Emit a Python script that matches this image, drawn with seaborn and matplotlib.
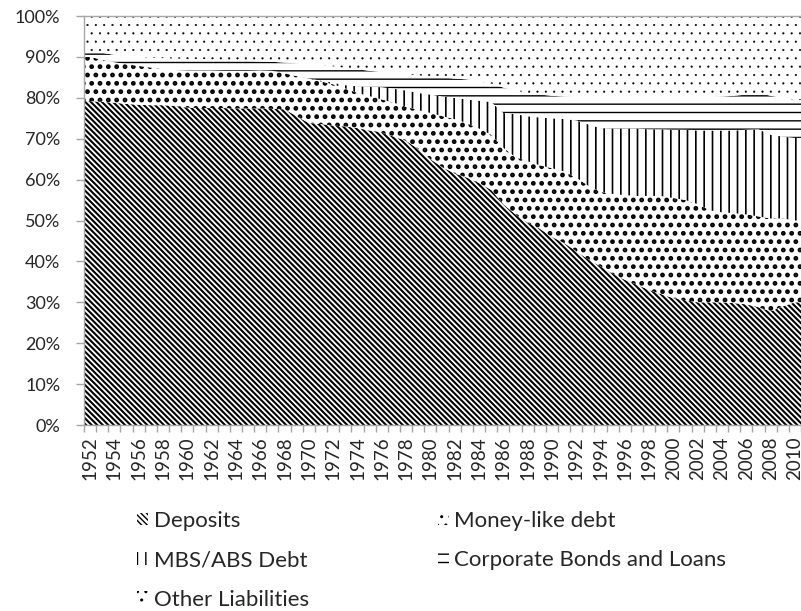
import numpy as np
import matplotlib
matplotlib.use("Agg")
import matplotlib.pyplot as plt
import seaborn as sns

years = list(range(1952, 2011))

deposits = [79.2, 79.0, 78.8, 78.5, 78.3, 78.2, 78.2, 78.0, 77.6, 77.5,
            77.5, 77.5, 77.4, 77.4, 77.4, 77.3, 77.2, 75.5, 73.8, 73.6,
            73.2, 73.0, 72.6, 72.0, 71.5, 70.5, 69.5, 67.5, 65.0, 63.0,
            61.5, 60.5, 59.2, 57.5, 54.0, 51.5, 49.5, 48.0, 46.0, 44.5,
            42.5, 40.5, 38.8, 37.0, 35.5, 34.3, 33.0, 32.0, 31.0, 30.5,
            30.0, 30.0, 30.0, 29.8, 29.5, 28.8, 27.8, 29.0, 30.0]
money_like = [10.8, 10.3, 9.9, 9.7, 9.5, 9.2, 8.8, 8.8, 9.1, 9.2,
              9.2, 9.1, 9.2, 9.2, 9.3, 9.3, 8.8, 9.8, 10.8, 10.4,
              10.1, 9.3, 8.6, 8.4, 8.1, 8.3, 8.3, 9.5, 11.3, 12.5,
              13.3, 13.3, 13.3, 13.5, 13.8, 14.0, 15.0, 15.5, 16.8, 17.5,
              18.0, 18.0, 18.2, 19.5, 20.7, 21.7, 23.0, 24.0, 24.5, 24.5,
              24.0, 22.5, 22.0, 22.0, 22.0, 22.2, 22.7, 21.5, 20.0]
mbs_abs = [0.0, 0.0, 0.0, 0.0, 0.0, 0.0, 0.0, 0.0, 0.0, 0.0,
           0.0, 0.0, 0.0, 0.0, 0.0, 0.0, 0.0, 0.0, 0.1, 0.2,
           0.4, 0.8, 1.6, 2.3, 3.0, 3.4, 4.0, 4.2, 4.5, 4.8,
           5.2, 5.8, 6.8, 8.0, 8.5, 10.5, 11.0, 11.7, 12.2, 12.8,
           14.0, 15.0, 15.6, 16.0, 16.3, 16.5, 16.3, 16.3, 16.7, 17.2,
           18.0, 19.5, 20.0, 20.2, 20.7, 21.3, 20.5, 20.0, 20.2]
corp_bonds = [1.5, 1.7, 1.8, 2.0, 2.2, 2.4, 2.7, 2.8, 2.8, 2.8,
              2.7, 2.7, 2.6, 2.4, 2.2, 2.2, 2.6, 3.1, 3.5, 3.8,
              4.0, 4.2, 4.2, 3.9, 3.7, 3.8, 4.0, 4.3, 4.4, 4.7,
              4.7, 4.9, 4.7, 4.5, 6.2, 5.8, 5.7, 5.6, 5.5, 5.5,
              5.7, 6.5, 7.4, 7.3, 7.3, 7.3, 7.5, 7.6, 7.8, 7.8,
              8.0, 8.2, 8.3, 8.5, 8.6, 8.9, 9.5, 9.5, 9.3]
other = [8.5, 9.0, 9.5, 9.8, 10.0, 10.2, 10.3, 10.4, 10.5, 10.5,
         10.6, 10.7, 10.8, 11.0, 11.1, 11.2, 11.4, 11.6, 11.8, 12.0,
         12.3, 12.7, 13.0, 13.4, 13.7, 14.0, 14.2, 14.5, 14.8, 15.0,
         15.3, 15.5, 16.0, 16.5, 17.5, 18.2, 18.8, 19.2, 19.5, 19.7,
         19.8, 20.0, 20.0, 20.2, 20.2, 20.2, 20.2, 20.1, 20.0, 20.0,
         20.0, 19.8, 19.7, 19.5, 19.2, 18.8, 19.5, 20.0, 20.5]

labels = ["Deposits", "Money-like debt", "MBS/ABS Debt",
          "Corporate Bonds and Loans", "Other Liabilities"]
series = [deposits, money_like, mbs_abs, corp_bonds, other]
hatches = ["\\" * 6, "..", "||", "--", ".."]
hatch_lw = [1.5, 2.2, 1.2, 1.0, 0.3]


def use_hatch_lw(artist, lw):
    # depending on the version the hatch width is taken at creation or at
    # draw time, so cover both
    if hasattr(artist, "set_hatch_linewidth"):
        artist.set_hatch_linewidth(lw)
    orig = artist.draw

    def draw(renderer):
        with plt.rc_context({"hatch.linewidth": lw}):
            orig(renderer)
    artist.draw = draw


sns.set_theme(style="white")
plt.rcParams["font.family"] = ["Lato", "DejaVu Sans"]

fig = plt.figure(figsize=(8.01, 6.11), dpi=100)
ax = fig.add_axes([0.1049, 0.3044, 0.8951, 0.6694])

# shares -> stacked bands, stretched to the edges of the category axis
x = np.r_[years[0] - 0.5, years, years[-1] + 0.5]
data = np.array(series) / np.sum(series, axis=0)
data = np.c_[data[:, :1], data, data[:, -1:]]
tops = np.cumsum(data, axis=0)
bottoms = np.vstack([np.zeros(len(x)), tops[:-1]])

handles = []
for i, lab in enumerate(labels):
    with plt.rc_context({"hatch.linewidth": hatch_lw[i]}):
        coll = ax.fill_between(x, bottoms[i], tops[i], facecolor="white",
                               edgecolor="black", hatch=hatches[i],
                               linewidth=0, label=lab)
    use_hatch_lw(coll, hatch_lw[i])
    handles.append(coll)

ax.set_xlim(years[0] - 0.5, years[-1] + 0.5)
ax.set_ylim(0, 1)
yt = np.arange(0, 1.01, 0.1)
ax.set_yticks(yt)
ax.set_yticklabels([f"{int(round(v * 100))}%" for v in yt])
ax.set_xticks(years[::2])
ax.set_xticklabels([str(y) for y in years[::2]], rotation=90)
ax.set_xticks(np.arange(years[0] - 0.5, years[-1] + 1), minor=True)
ax.tick_params(axis="x", which="major", length=0, labelsize=13.5, pad=8)
ax.tick_params(axis="x", which="minor", length=5, width=1, color="#a6a6a6",
               bottom=True, direction="out")
ax.tick_params(axis="y", length=6, width=1, color="#a6a6a6", left=True,
               labelsize=13, pad=11)

for side in ["left", "bottom", "top"]:
    ax.spines[side].set_color("#a6a6a6")
    ax.spines[side].set_linewidth(1)
ax.spines["right"].set_visible(False)

# legend fills column by column; reorder so it reads row by row
order = [0, 2, 4, 1, 3]
fig.legend([handles[k] for k in order], [labels[k] for k in order],
           loc="upper left", bbox_to_anchor=(137 / 801, 1 - 511 / 611),
           ncol=2, frameon=False, fontsize=16, handlelength=0.5,
           handleheight=0.5, handletextpad=0.25, columnspacing=5.8,
           labelspacing=0.87, borderpad=0, borderaxespad=0)

fig.savefig("out.png", dpi=100)
